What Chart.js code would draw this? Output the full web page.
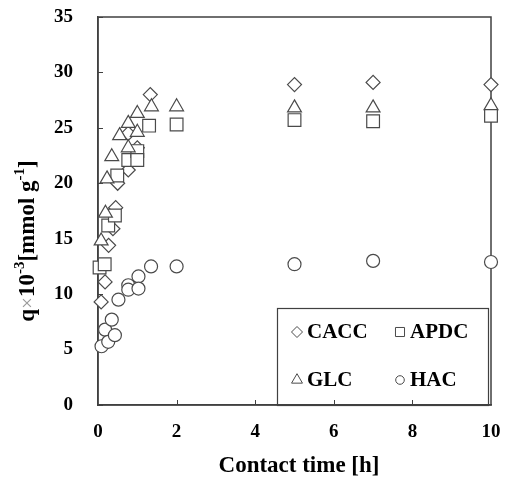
<!DOCTYPE html>
<html>
<head>
<meta charset="utf-8">
<script src="https://cdn.jsdelivr.net/npm/chart.js@4.4.0/dist/chart.umd.min.js"></script>
<style>
  html, body { margin: 0; padding: 0; background: #fff; }
  #wrap { width: 506px; height: 485px; position: relative; }
</style>
</head>
<body>
<div id="wrap"><canvas id="chart"></canvas></div>
<script>
// ---- data (time in h, q x10^-3 mmol/g) ----
const SERIES = ['CACC', 'APDC', 'GLC', 'HAC'];

const CACC_T = [0.08, 0.18, 0.27, 0.38, 0.45, 0.50, 0.77, 0.77, 1.00, 1.33, 5, 7, 10];
const CACC_Q = [9.3, 11.1, 14.4, 15.9, 17.8, 20.0, 21.2, 24.5, 23.2, 28.0, 28.9, 29.1, 28.9];

const APDC_T = [0.04, 0.17, 0.26, 0.43, 0.49, 0.77, 1.00, 1.00, 1.30, 2, 5, 7, 10];
const APDC_Q = [12.4, 12.7, 16.2, 17.1, 20.7, 22.1, 22.9, 22.1, 25.2, 25.3, 25.7, 25.6, 26.1];

const GLC_T = [0.08, 0.19, 0.23, 0.35, 0.55, 0.77, 0.77, 1.00, 1.00, 1.36, 2, 5, 7, 10];
const GLC_Q = [14.8, 17.3, 20.4, 22.4, 24.3, 25.4, 23.2, 26.3, 24.6, 26.9, 26.9, 26.8, 26.8, 27.0];

const HAC_T = [0.09, 0.18, 0.26, 0.35, 0.43, 0.52, 0.77, 0.77, 1.03, 1.03, 1.35, 2, 5, 7, 10];
const HAC_Q = [5.3, 6.8, 5.7, 7.7, 6.3, 9.5, 10.8, 10.4, 11.6, 10.5, 12.5, 12.5, 12.7, 13.0, 12.9];

const X_MIN = 0, X_MAX = 10, X_STEP = 2;
const Y_MIN = 0, Y_MAX = 35, Y_STEP = 5;

const X_TITLE = 'Contact time [h]';

// ---- styles ----
const FONT = "'Liberation Serif', 'Times New Roman', serif";
const AXIS = '#404040';
const MARK = '#4a4a4a';
const STYLES = {
  CACC: { pointStyle: 'rectRot', radius: 7, legendR: 5.5 },
  APDC: { pointStyle: 'rect', radius: 9, legendR: 6.4 },
  GLC:  { pointStyle: 'triangle', radius: 8, legendR: 6.3 },
  HAC:  { pointStyle: 'circle', radius: 6.5, legendR: 4.3 }
};

function pts(ts, qs) { return ts.map((t, i) => ({ x: t, y: qs[i] })); }

const RAW = { CACC: [CACC_T, CACC_Q], APDC: [APDC_T, APDC_Q], GLC: [GLC_T, GLC_Q], HAC: [HAC_T, HAC_Q] };

const datasets = SERIES.map((name, i) => ({
  label: name,
  data: pts(RAW[name][0], RAW[name][1]),
  showLine: false,
  clip: false,
  pointStyle: STYLES[name].pointStyle,
  pointRadius: STYLES[name].radius,
  pointBackgroundColor: '#fff',
  pointBorderColor: MARK,
  pointBorderWidth: 1.2,
  order: SERIES.length - i
}));

// frame, inward tick marks, axis titles and the boxed 2x2 legend
const frame = {
  id: 'frame',
  beforeDatasetsDraw(chart) {
    const { ctx, chartArea: a, scales } = chart;
    ctx.save();
    ctx.strokeStyle = AXIS;
    ctx.lineWidth = 1.5;
    ctx.strokeRect(a.left, a.top, a.right - a.left, a.bottom - a.top);

    ctx.lineWidth = 1;
    ctx.beginPath();
    scales.y.ticks.forEach(t => {
      const y = Math.round(scales.y.getPixelForValue(t.value)) + 0.5;
      ctx.moveTo(a.left, y); ctx.lineTo(a.left + 5, y);
    });
    scales.x.ticks.forEach(t => {
      if (t.value === X_MIN || t.value === X_MAX) return;
      const x = Math.round(scales.x.getPixelForValue(t.value)) + 0.5;
      ctx.moveTo(x, a.bottom); ctx.lineTo(x, a.bottom - 5);
    });
    ctx.stroke();
    ctx.restore();
  },
  afterDraw(chart) {
    const { ctx, chartArea: a } = chart;
    ctx.save();
    // x title
    ctx.fillStyle = '#000';
    ctx.font = 'bold 23px ' + FONT;
    ctx.textAlign = 'center';
    ctx.textBaseline = 'middle';
    ctx.fillText(X_TITLE, 299, 466);

    // y title with superscripts
    const parts = [
      { t: 'q', f: 'bold 23px ', c: '#000', dy: 0 },
      { t: '\u00d7', f: '21px ', c: '#999', dy: 0 },
      { t: '10', f: 'bold 23px ', c: '#000', dy: 0 },
      { t: '-3', f: 'bold 15px ', c: '#000', dy: -8 },
      { t: '[mmol g', f: 'bold 23px ', c: '#000', dy: 0 },
      { t: '-1', f: 'bold 15px ', c: '#000', dy: -8 },
      { t: ']', f: 'bold 23px ', c: '#000', dy: 0 }
    ];
    let total = 0;
    parts.forEach(p => { ctx.font = p.f + FONT; p.w = ctx.measureText(p.t).width; total += p.w; });
    ctx.translate(28, 241);
    ctx.rotate(-Math.PI / 2);
    ctx.textAlign = 'left';
    let cx = -total / 2;
    parts.forEach(p => {
      ctx.font = p.f + FONT;
      ctx.fillStyle = p.c;
      ctx.fillText(p.t, cx, p.dy);
      cx += p.w;
    });
    ctx.setTransform(1, 0, 0, 1, 0, 0);

    // legend box (unfilled, so the axis ticks stay visible through it)
    const box = { l: 277, t: 308, r: 488, b: a.bottom };
    ctx.strokeStyle = AXIS;
    ctx.lineWidth = 1.2;
    ctx.strokeRect(box.l + 0.5, box.t + 0.5, box.r - box.l, box.b - box.t);
    const cols = [297, 400], rows = [332, 380];
    ctx.font = 'bold 21px ' + FONT;
    ctx.textAlign = 'left';
    ctx.textBaseline = 'middle';
    SERIES.forEach((name, i) => {
      const x = cols[i % 2], y = rows[Math.floor(i / 2)];
      ctx.strokeStyle = MARK;
      ctx.fillStyle = '#fff';
      ctx.lineWidth = 1;
      Chart.helpers.drawPoint(ctx, { pointStyle: STYLES[name].pointStyle, radius: STYLES[name].legendR, rotation: 0, borderWidth: 1 }, x, y);
      ctx.fillStyle = '#000';
      ctx.fillText(name, x + 10, y + 1);
    });
    ctx.restore();
  }
};

new Chart(document.getElementById('chart'), {
  type: 'scatter',
  data: { datasets },
  options: {
    responsive: true,
    maintainAspectRatio: false,
    animation: false,
    layout: { padding: { top: 17, right: 15, left: 0, bottom: 0 } },
    plugins: { legend: { display: false }, tooltip: { enabled: false } },
    scales: {
      x: {
        type: 'linear', min: X_MIN, max: X_MAX,
        grid: { display: true, drawOnChartArea: false, drawTicks: false },
        border: { color: AXIS, width: 1.5 },
        ticks: { stepSize: X_STEP, padding: 16, color: '#000', font: { family: FONT, size: 19, weight: 'bold' } },
        afterFit(s) { s.height = 80; s.paddingLeft = 0; s.paddingRight = 0; }
      },
      y: {
        type: 'linear', min: Y_MIN, max: Y_MAX,
        grid: { display: true, drawOnChartArea: false, drawTicks: false },
        border: { color: AXIS, width: 1.5 },
        ticks: { stepSize: Y_STEP, padding: 25, color: '#000', font: { family: FONT, size: 19, weight: 'bold' } },
        afterFit(s) { s.width = 98; s.paddingTop = 0; s.paddingBottom = 0; }
      }
    }
  },
  plugins: [frame]
});
</script>
</body>
</html>
